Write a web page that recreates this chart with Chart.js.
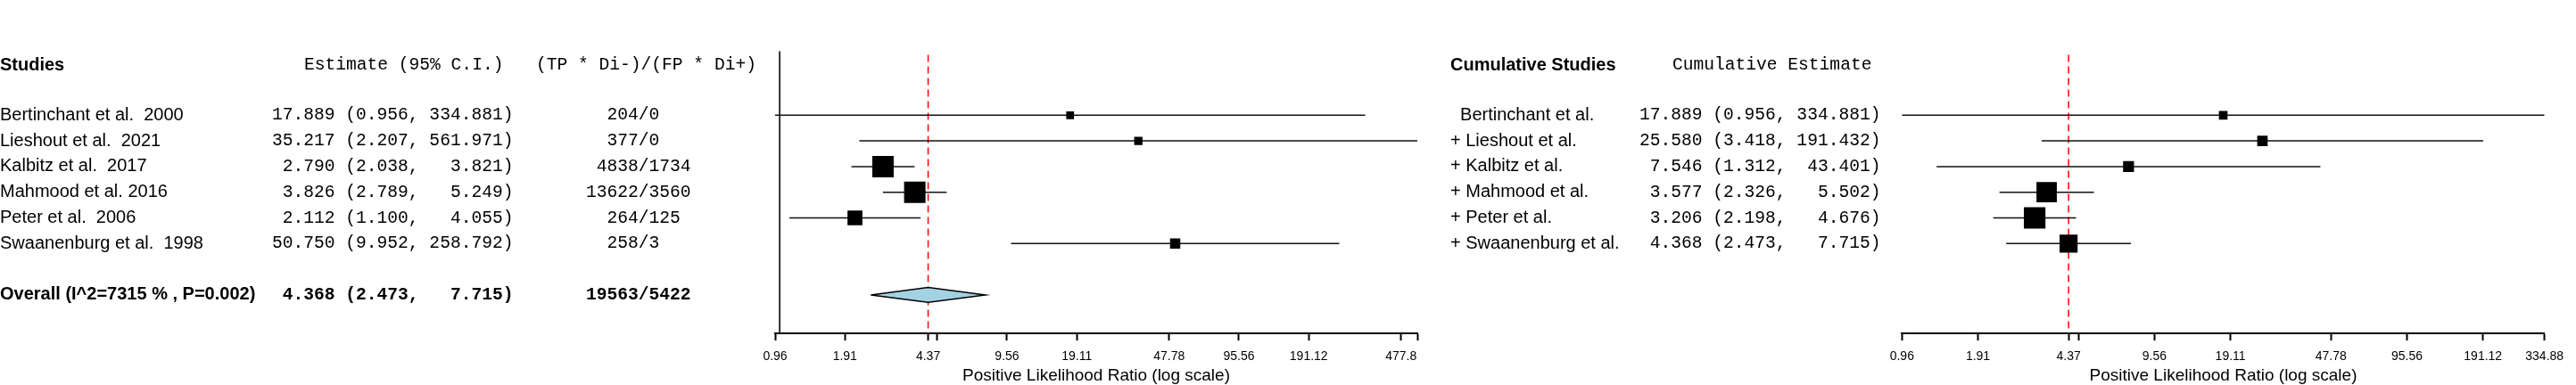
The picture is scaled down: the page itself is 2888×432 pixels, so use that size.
<!DOCTYPE html>
<html>
<head>
<meta charset="utf-8">
<title>Forest plot - Positive Likelihood Ratio</title>
<script src="https://cdn.jsdelivr.net/npm/chart.js@4.4.1/dist/chart.umd.min.js"></script>
<style>
  html, body { margin: 0; padding: 0; background: #fff; }
  #wrap { position: relative; width: 2888px; height: 432px; }
  canvas { position: absolute; top: 0; }
</style>
</head>
<body>
<div id="wrap">
  <canvas id="studyChart" width="1620" height="432" style="left:0px"></canvas>
  <canvas id="cumChart" width="1268" height="432" style="left:1620px"></canvas>
</div>
<script>
// Individual studies
const studies = [
  "Bertinchant et al.  2000",
  "Lieshout et al.  2021",
  "Kalbitz et al.  2017",
  "Mahmood et al. 2016",
  "Peter et al.  2006",
  "Swaanenburg et al.  1998",
];
const estimates = [17.889, 35.217, 2.79, 3.826, 2.112, 50.75];
const lowerCI = [0.956, 2.207, 2.038, 2.789, 1.1, 9.952];
const upperCI = [334.881, 561.971, 3.821, 5.249, 4.055, 258.792];
const tpDiNeg = [204, 377, 4838, 13622, 264, 258];
const fpDiPos = [0, 0, 1734, 3560, 125, 3];
const studyWeights = [4.4, 5.0, 33.2, 33.2, 16.1, 7.6]; // relative weight (box area)

// Pooled estimate
const overallLabel = "Overall (I^2=7315 % , P=0.002)";
const overallEst = 4.368;
const overallLower = 2.473;
const overallUpper = 7.715;
const overallRatio = "19563/5422";

// Cumulative meta-analysis
const cumStudies = [
  "  Bertinchant et al.",
  "+ Lieshout et al.",
  "+ Kalbitz et al.",
  "+ Mahmood et al.",
  "+ Peter et al.",
  "+ Swaanenburg et al.",
];
const cumEstimates = [17.889, 25.58, 7.546, 3.577, 3.206, 4.368];
const cumLower = [0.956, 3.418, 1.312, 2.326, 2.198, 2.473];
const cumUpper = [334.881, 191.432, 43.401, 5.502, 4.676, 7.715];
const cumWeights = [5.4, 7.9, 8.6, 30.0, 33.8, 23.5];

// Axis ticks (log scale)
const studyTicks = [0.956, 1.912, 4.368, 4.78, 9.56, 19.11, 47.78, 95.56, 191.12, 477.8, 561.971];
const studyTickLabels = ["0.96", "1.91", "4.37", "", "9.56", "19.11", "47.78", "95.56", "191.12", "477.8", ""];
const cumTicks = [0.956, 1.912, 4.368, 4.78, 9.56, 19.11, 47.78, 95.56, 191.12, 334.881];
const cumTickLabels = ["0.96", "1.91", "4.37", "", "9.56", "19.11", "47.78", "95.56", "191.12", "334.88"];

const axisTitle = "Positive Likelihood Ratio (log scale)";

// layout
const H = 432;
const AXIS_Y = 374.1;
const TOP_Y = 57.3;
const HEADER_ROW = -1.95;
const OVERALL_ROW = 7;
const SANS = '"Liberation Sans", Arial, sans-serif';
const MONO = '"Liberation Mono", "Courier New", monospace';
const sansFont = "20px " + SANS;
const sansBold = "bold 20px " + SANS;
const monoFont = "19.6px " + MONO;
const monoBold = "bold 19.6px " + MONO;

const fmtCI = (e, lo, hi) =>
  e.toFixed(3).padStart(6) + " (" + lo.toFixed(3).padStart(5) + ", " + hi.toFixed(3).padStart(7) + ")";
const fmtRatio = (a, b) => String(a).padStart(5) + "/" + b;
const boxRadius = (w) => (4.165 * Math.sqrt(w)) / Math.SQRT2;

// draws the text columns, rows placed with the y scale
const textPlugin = (items) => ({
  id: "textColumns",
  afterDraw(chart) {
    const { ctx } = chart;
    const yScale = chart.scales.y;
    ctx.save();
    ctx.fillStyle = "#000";
    ctx.textBaseline = "middle";
    ctx.textAlign = "left";
    items.forEach((t) => {
      ctx.font = t.font;
      ctx.fillText(t.text, t.x, yScale.getPixelForValue(t.row));
    });
    ctx.restore();
  },
});

function forestChart(canvasId, cfg) {
  const datasets = [];

  // boxes on top
  datasets.push({
    type: "scatter",
    data: cfg.est.map((e, i) => ({ x: e, y: i })),
    pointStyle: "rect",
    pointRadius: cfg.weights.map(boxRadius),
    pointHoverRadius: cfg.weights.map(boxRadius),
    backgroundColor: "#000",
    borderWidth: 0,
    order: 0,
  });

  if (cfg.diamond) {
    const d = cfg.diamond;
    datasets.push({
      type: "line",
      data: [
        { x: d.lo, y: OVERALL_ROW },
        { x: d.est, y: OVERALL_ROW - 0.29 },
        { x: d.hi, y: OVERALL_ROW },
        { x: d.est, y: OVERALL_ROW + 0.29 },
        { x: d.lo, y: OVERALL_ROW },
      ],
      fill: "shape",
      backgroundColor: "#a3d2e2",
      borderColor: "#000",
      borderWidth: 1.5,
      pointRadius: 0,
      tension: 0,
      order: 1,
    });
  }

  // confidence intervals
  cfg.est.forEach((e, i) => {
    datasets.push({
      type: "line",
      data: [
        { x: cfg.lo[i], y: i },
        { x: cfg.hi[i], y: i },
      ],
      borderColor: "#111",
      borderWidth: 1.5,
      pointRadius: 0,
      order: 2,
    });
  });

  // pooled estimate reference
  datasets.push({
    type: "line",
    data: [
      { x: overallEst, y: -2.35 },
      { x: overallEst, y: 8.5 },
    ],
    borderColor: "#ff0000",
    borderWidth: 1.5,
    borderDash: [8, 5],
    pointRadius: 0,
    order: 3,
  });

  if (cfg.nullLine) {
    datasets.push({
      type: "line",
      data: [
        { x: 1, y: -2.5 },
        { x: 1, y: 8.5 },
      ],
      borderColor: "#333",
      borderWidth: 2,
      pointRadius: 0,
      order: 4,
    });
  }

  return new Chart(document.getElementById(canvasId), {
    type: "scatter",
    data: { datasets },
    options: {
      responsive: false,
      animation: false,
      events: [],
      layout: { padding: { left: cfg.left, right: cfg.right, top: TOP_Y, bottom: 0 } },
      plugins: { legend: { display: false }, tooltip: { enabled: false } },
      scales: {
        x: {
          type: "logarithmic",
          min: cfg.min,
          max: cfg.max,
          bounds: "data",
          offset: false,
          afterBuildTicks: (s) => {
            s.ticks = cfg.ticks.map((v) => ({ value: v }));
          },
          afterFit: (s) => {
            s.height = H - AXIS_Y;
          },
          ticks: {
            autoSkip: false,
            maxRotation: 0,
            minRotation: 0,
            padding: 10,
            color: "#000",
            font: { family: SANS, size: 14 },
            callback: (v, i) => cfg.tickLabels[i],
          },
          grid: {
            drawOnChartArea: false,
            drawTicks: true,
            tickLength: 8,
            tickWidth: 2,
            tickColor: "#000",
          },
          border: { display: true, color: "#000", width: 2 },
          title: {
            display: true,
            text: axisTitle,
            color: "#000",
            font: { family: SANS, size: 19, lineHeight: 1 },
            padding: { top: 0, bottom: 1 },
          },
        },
        y: { type: "linear", reverse: true, min: -2.5, max: 8.5, display: false },
      },
    },
    plugins: [textPlugin(cfg.text)],
  });
}

// left panel: individual studies
const studyText = [
  { text: "Studies", x: 0, row: HEADER_ROW, font: sansBold },
  { text: "Estimate (95% C.I.)", x: 341, row: HEADER_ROW, font: monoFont },
  { text: "(TP * Di-)/(FP * Di+)", x: 601, row: HEADER_ROW, font: monoFont },
];
studies.forEach((s, i) => {
  studyText.push({ text: s, x: 0, row: i, font: sansFont });
  studyText.push({ text: fmtCI(estimates[i], lowerCI[i], upperCI[i]), x: 305, row: i, font: monoFont });
  studyText.push({ text: fmtRatio(tpDiNeg[i], fpDiPos[i]), x: 657, row: i, font: monoFont });
});
studyText.push({ text: overallLabel, x: 0, row: OVERALL_ROW, font: sansBold });
studyText.push({ text: fmtCI(overallEst, overallLower, overallUpper), x: 305, row: OVERALL_ROW, font: monoBold });
studyText.push({ text: overallRatio, x: 657, row: OVERALL_ROW, font: monoBold });

forestChart("studyChart", {
  est: estimates,
  lo: lowerCI,
  hi: upperCI,
  weights: studyWeights,
  diamond: { est: overallEst, lo: overallLower, hi: overallUpper },
  nullLine: true,
  min: 0.956,
  max: 561.971,
  ticks: studyTicks,
  tickLabels: studyTickLabels,
  left: 869,
  right: 1620 - 1589,
  text: studyText,
});

// right panel: cumulative
const cumText = [
  { text: "Cumulative Studies", x: 6, row: HEADER_ROW, font: sansBold },
  { text: "Cumulative Estimate", x: 255, row: HEADER_ROW, font: monoFont },
];
cumStudies.forEach((s, i) => {
  cumText.push({ text: s, x: 6, row: i, font: sansFont });
  cumText.push({ text: fmtCI(cumEstimates[i], cumLower[i], cumUpper[i]), x: 218, row: i, font: monoFont });
});

forestChart("cumChart", {
  est: cumEstimates,
  lo: cumLower,
  hi: cumUpper,
  weights: cumWeights,
  diamond: null,
  nullLine: false,
  min: 0.956,
  max: 334.881,
  ticks: cumTicks,
  tickLabels: cumTickLabels,
  left: 2132.3 - 1620,
  right: 1268 - (2852.7 - 1620),
  text: cumText,
});
</script>
</body>
</html>
